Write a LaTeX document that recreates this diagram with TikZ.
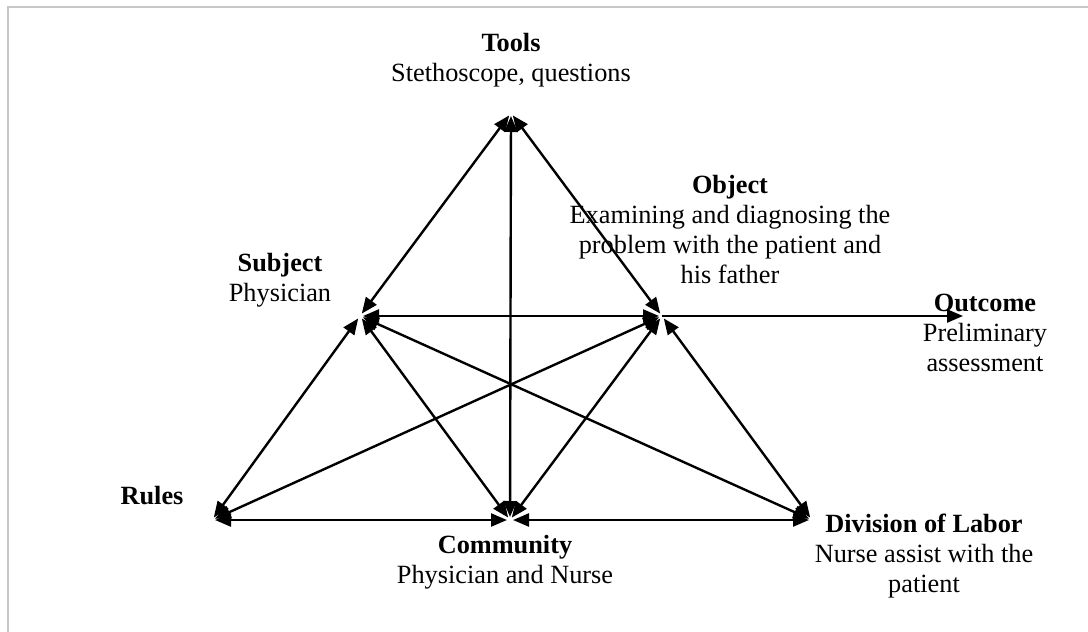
\documentclass[tikz,border=0pt]{standalone}
\usepackage{fontspec}
\setmainfont{Liberation Serif}
\usetikzlibrary{arrows.meta}
\begin{document}
\begin{tikzpicture}[x=1pt,y=-1pt,
  lbl/.style={inner sep=0pt, align=center, anchor=base,
    font=\fontsize{26.3}{30}\selectfont},
  tip/.style={Triangle[length=16pt,width=13pt]},
  link/.style={line width=2.4pt, {Triangle[length=16pt,width=13pt]}-{Triangle[length=16pt,width=13pt]},
    shorten <=3pt, shorten >=3pt},
  oneway/.style={line width=2.4pt, -{Triangle[length=16pt,width=13pt]}}]
  \useasboundingbox (0,0) rectangle (1088,632);
  % frame
  \draw[line width=2pt, draw=black!22] (8,640) -- (8,7) -- (1096,7);

  % corners of the activity system
  \coordinate (T) at (511,113);
  \coordinate (S) at (360,316);
  \coordinate (O) at (662,316);
  \coordinate (R) at (212,520);
  \coordinate (C) at (510,520);
  \coordinate (D) at (812,520);
  \coordinate (Out) at (963,316);

  % labels (anchored at the baseline of their last line)
  \node[lbl] (tools) at (511,81.5) {\textbf{Tools}\\Stethoscope, questions};
  \node[lbl] (object) at (730,283) {\textbf{Object}\\Examining and diagnosing the\\problem with the patient and\\his father};
  \node[lbl] (subject) at (280,301) {\textbf{Subject}\\Physician};
  \node[lbl] (outcome) at (985,371) {\textbf{Outcome}\\Preliminary\\assessment};
  \node[lbl] (rules) at (152,504) {\textbf{Rules}};
  \node[lbl] (community) at (505,583) {\textbf{Community}\\Physician and Nurse};
  \node[lbl] (division) at (924,592) {\textbf{Division of Labor}\\Nurse assist with the\\patient};

  % connectors
  \draw[link] (T) -- (S);
  \draw[link] (T) -- (O);
  \draw[link] (T) -- (C);
  \draw[link] (S) -- (O);
  \draw[oneway] (O) -- (Out);
  \draw[link] (S) -- (R);
  \draw[link] (S) -- (C);
  \draw[link] (S) -- (D);
  \draw[link] (O) -- (R);
  \draw[link] (O) -- (C);
  \draw[link] (O) -- (D);
  \draw[link] (R) -- (C);
  \draw[link] (C) -- (D);
\end{tikzpicture}
\end{document}
